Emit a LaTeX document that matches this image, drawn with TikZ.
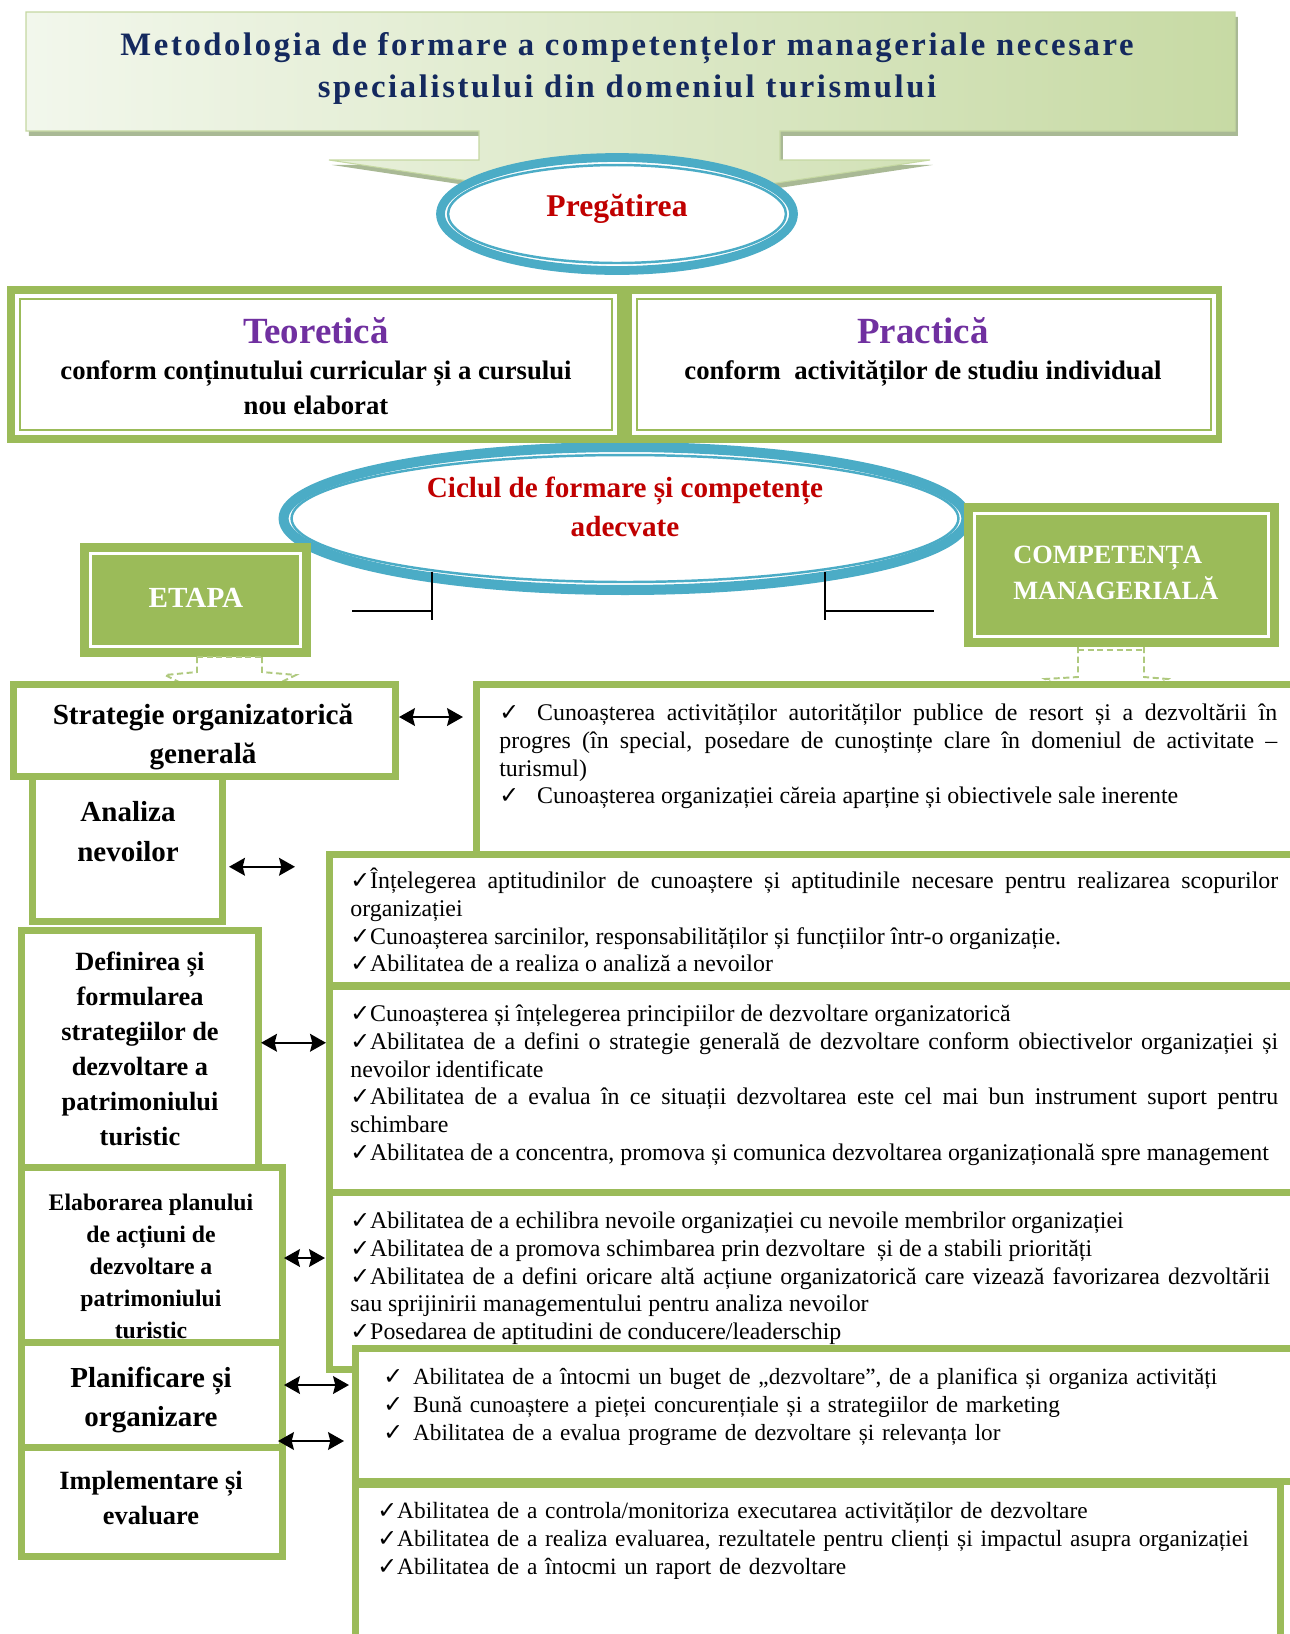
\documentclass[tikz,border=0pt]{standalone}
\usepackage{fontspec}
\setmainfont{Liberation Serif}
\newfontfamily\checkfont{DejaVu Sans}
\usetikzlibrary{shapes.geometric,arrows.meta,calc,fit,shadows}

\definecolor{boxgreen}{HTML}{9BBB59}
\definecolor{dashgreen}{HTML}{AFC97E}
\definecolor{ringblue}{HTML}{4BACC6}
\definecolor{titlenavy}{HTML}{14295E}
\definecolor{headred}{HTML}{C00000}
\definecolor{headpurple}{HTML}{7030A0}
\definecolor{bannerlight}{HTML}{F2F7EC}
\definecolor{bannerdark}{HTML}{C7DAA4}
\definecolor{bannerline}{HTML}{C5D8A2}
\definecolor{bannershadow}{HTML}{A9B995}

\newcommand{\ck}{{\checkfont\fontsize{13.5}{13.5}\selectfont ✓}}
\hyphenpenalty=10000
\exhyphenpenalty=10000
\tolerance=9999
\emergencystretch=2em

\begin{document}
\begin{tikzpicture}[x=0.02cm, y=-0.02cm,
  lbox/.style={draw=boxgreen, line width=4pt, fill=white, inner sep=0pt},
  ltext/.style={align=center, inner sep=0pt},
  rtext/.style={inner sep=0pt, anchor=base west, align=justify, font=\fontsize{13.6}{15.8}\selectfont},
  plate/.style={fill=boxgreen, inner sep=0pt,
    path picture={\draw[white, line width=1.6pt] ([shift={(6pt,-6pt)}]path picture bounding box.north west) rectangle ([shift={(-6pt,6pt)}]path picture bounding box.south east);}},
  dblbox/.style={fill=white, inner sep=0pt,
    path picture={\draw[boxgreen, line width=1.1pt] ([shift={(2.6pt,-2.6pt)}]path picture bounding box.north west) rectangle ([shift={(-2.6pt,2.6pt)}]path picture bounding box.south east);}},
  ring/.style={ellipse, draw=ringblue, fill=white, inner sep=0pt},
  biarrow/.style={{Stealth[length=9pt,width=10pt,inset=1.2pt]}-{Stealth[length=9pt,width=10pt,inset=1.2pt]}, line width=1.4pt},
  dashlink/.style={dashgreen, line width=1.1pt, dash pattern=on 3.5pt off 2pt}]

\fill[white] (0,0) rectangle (1290,1634);
\useasboundingbox (0,0) rectangle (1290,1634);

\path[drop shadow={shadow xshift=1.6pt, shadow yshift=-2.8pt, fill=bannershadow, opacity=1},
  left color=bannerlight, right color=bannerdark, draw=bannerline, line width=0.6pt]
  (26,12) -- (1235,12) -- (1235,131) -- (780,131) -- (780,160) -- (930,160) -- (629,205)
  -- (329,160) -- (479,160) -- (479,131) -- (26,131) -- cycle;
\node[align=center, text=titlenavy, anchor=north,
  font={\fontsize{18.6}{24}\selectfont\bfseries\addfontfeature{LetterSpace=8}}] (title) at (627,26)
  {Metodologia de formare a competențelor manageriale necesare\\specialistului din domeniul turismului};

\node[ring, line width=5pt, minimum width=7.06cm, minimum height=2.26cm] (prep) at (617,214) {};
\draw[ringblue, line width=1.4pt] (prep.center) ellipse [x radius=3.38cm, y radius=0.98cm];
\node[text=headred, font=\fontsize{18}{20}\selectfont\bfseries] (prep-t) at (617,209) {Pregătirea};

\node[ring, line width=5.7pt, minimum width=13.66cm, minimum height=2.86cm] (ciclu) at (625,518.5) {};
\draw[ringblue, line width=1.4pt] (ciclu.center) ellipse [x radius=6.67cm, y radius=1.27cm];
\node[ltext, text=headred, font=\fontsize{16.6}{22}\selectfont\bfseries] (ciclu-t) at (625,507)
  {Ciclul de formare și competențe\\adecvate};

\node[fill=boxgreen, inner sep=0pt, fit={(7,286) (1222,443)}] (tpframe) {};
\node[dblbox, fit={(15,294) (617,435)}] (teo) {};
\node[dblbox, fit={(632,294) (1216,435)}] (prac) {};
\node[ltext, anchor=north, font=\fontsize{15.2}{19.5}\selectfont\bfseries] (teo-t) at (316,317)
  {{\fontsize{21}{24}\selectfont\color{headpurple}Teoretică}\\[1.3pt]conform conținutului curricular și a cursului\\nou elaborat};
\node[ltext, anchor=north, font=\fontsize{15.2}{19.5}\selectfont\bfseries] (prac-t) at (923,317)
  {{\fontsize{21}{24}\selectfont\color{headpurple}Practică}\\[1.3pt]conform \ activităților de studiu individual};

\node[plate, fit={(80,543) (311,657)}] (etapa) {};
\node[text=white, font=\fontsize{16.6}{20}\selectfont\bfseries] (etapa-t) at (196,598) {ETAPA};
\node[plate, fit={(964,503) (1279,647)}] (comp) {};
\node[anchor=west, align=left, inner sep=0pt, text=white, font=\fontsize{15}{20.1}\selectfont\bfseries] (comp-t) at (1013,573)
  {COMPETENȚA\\MANAGERIALĂ};

\draw[line width=1.3pt] (352,611) -- (432,611);
\draw[line width=0.9pt] (432,572) -- (432,620);
\draw[line width=0.9pt] (825,572) -- (825,620);
\draw[line width=1.3pt] (825,611) -- (934,611);

\draw[dashlink] (197,657) -- (262,657);
\draw[dashlink] (197,657) -- (197,672) -- (165,675) -- (229,707);
\draw[dashlink] (262,657) -- (262,672) -- (296,675) -- (229,707);
\draw[dashlink] (1078,650) -- (1144,650);
\draw[dashlink] (1078,647) -- (1078,677) -- (1045,679) -- (1111,712);
\draw[dashlink] (1144,647) -- (1144,677) -- (1168,679) -- (1111,712);

\node[lbox, fit={(13.5,684.5) (395.5,776.5)}] (strat) {};
\node[ltext, font=\fontsize{16.6}{21.9}\selectfont\bfseries] (strat-t) at (203,737) {Strategie organizatorică\\generală};
\node[lbox, fit={(32.5,776.5) (222.5,921)}] (analiza) {};
\node[ltext, font=\fontsize{16.5}{22.8}\selectfont\bfseries] (analiza-t) at (128,832) {Analiza\\nevoilor};
\node[lbox, fit={(21.5,930.5) (258.5,1167)}] (def) {};
\node[ltext, font=\fontsize{15}{20}\selectfont\bfseries] (def-t) at (140,1049)
  {Definirea și\\formularea\\strategiilor de\\dezvoltare a\\patrimoniului\\turistic};
\node[lbox, fit={(21.5,1167) (282.5,1342)}] (elab) {};
\node[ltext, font=\fontsize{13.5}{18.2}\selectfont\bfseries] (elab-t) at (151,1266)
  {Elaborarea planului\\de acțiuni de\\dezvoltare a\\patrimoniului\\turistic};
\node[lbox, fit={(21.5,1342) (282.5,1447)}] (plan) {};
\node[ltext, font=\fontsize{16.5}{22.5}\selectfont\bfseries] (plan-t) at (151,1400) {Planificare și\\organizare};
\node[lbox, fit={(21.5,1447) (282.5,1556)}] (impl) {};
\node[ltext, font=\fontsize{15}{20.2}\selectfont\bfseries] (impl-t) at (151,1498) {Implementare și\\evaluare};

\node[lbox, fit={(476.5,684.5) (1300,900)}] (r1) {};
\node[rtext, text width=15.56cm] (r1-t) at (499,720.5)
  {\makebox[21.5pt][l]{\ck}Cunoașterea activităților autorităților publice de resort și a dezvoltării în\linebreak
   progres (în special, posedare de cunoștințe clare în domeniul de activitate –\linebreak turismul)\par
   \makebox[21.5pt][l]{\ck}Cunoașterea organizației căreia aparține și obiectivele sale inerente};
\node[lbox, fit={(329.5,854.5) (1300,985.5)}] (r2) {};
\node[rtext, text width=18.56cm] (r2-t) at (350,888.5)
  {\ck Înțelegerea aptitudinilor de cunoaștere și aptitudinile necesare pentru realizarea scopurilor\linebreak organizației\par
   \ck Cunoașterea sarcinilor, responsabilităților și funcțiilor într-o organizație.\par
   \ck Abilitatea de a realiza o analiză a nevoilor};
\node[lbox, fit={(329.5,986.5) (1300,1192.5)}] (r3) {};
\node[rtext, text width=18.56cm] (r3-t) at (350,1021.5)
  {\ck Cunoașterea și înțelegerea principiilor de dezvoltare organizatorică\par
   \ck Abilitatea de a defini o strategie generală de dezvoltare conform obiectivelor organizației și\linebreak nevoilor identificate\par
   \ck Abilitatea de a evalua în ce situații dezvoltarea este cel mai bun instrument suport pentru\linebreak schimbare\par
   \ck Abilitatea de a concentra, promova și comunica dezvoltarea organizațională spre management};
\node[lbox, fit={(329.5,1192.5) (1300,1369)}] (r4) {};
\node[rtext, text width=18.4cm] (r4-t) at (350,1228.5)
  {\ck Abilitatea de a echilibra nevoile organizației cu nevoile membrilor organizației\par
   \ck Abilitatea de a promova schimbarea prin dezvoltare \ și de a stabili priorități\par
   \ck Abilitatea de a defini oricare altă acțiune organizatorică care vizează favorizarea dezvoltării\linebreak sau sprijinirii managementului pentru analiza nevoilor\par
   \ck Posedarea de aptitudini de conducere/leaderschip};
\node[lbox, fit={(355.5,1348.5) (1300,1481)}] (r5) {};
\node[rtext, align=left, text width=18cm, font=\fontsize{13.2}{15.9}\selectfont] (r5-t) at (383,1384.5)
  {\makebox[17pt][l]{\ck}Abilitatea de a întocmi un buget de „dezvoltare”, de a planifica și organiza activități\\
   \makebox[17pt][l]{\ck}Bună cunoaștere a pieței concurențiale și a strategiilor de marketing\\
   \makebox[17pt][l]{\ck}Abilitatea de a evalua programe de dezvoltare și relevanța lor};
\node[lbox, fit={(355.5,1484) (1280.5,1645)}] (r6) {};
\node[rtext, align=left, text width=18cm, font=\fontsize{13.3}{15.9}\selectfont] (r6-t) at (377,1518.5)
  {\ck Abilitatea de a controla/monitoriza executarea activităților de dezvoltare\\
   \ck Abilitatea de a realiza evaluarea, rezultatele pentru clienți și impactul asupra organizației\\
   \ck Abilitatea de a întocmi un raport de dezvoltare};

\draw[biarrow] ($(strat.east)+(0,-13.5)$) -- ($(strat.east -| r1.west)+(-10,-13.5)$);
\draw[biarrow] ($(analiza.east)+(3,18)$) -- ($(analiza.east -| r2.west)+(-31,18)$);
\draw[biarrow] ($(def.east)+(-1,-6)$) -- ($(def.east -| r3.west)+(0,-6)$);
\draw[biarrow] ($(elab.east)+(-2,3.5)$) -- ($(elab.east -| r4.west)+(-1,3.5)$);
\draw[biarrow] ($(plan.east)+(-2,-9.5)$) -- ($(plan.east -| r5.west)+(-3,-9.5)$);
\draw[biarrow] ($(impl.north east)+(-8,-2.5)$) -- ($(impl.north east -| r5.west)+(-8,-2.5)$);
\end{tikzpicture}
\end{document}
